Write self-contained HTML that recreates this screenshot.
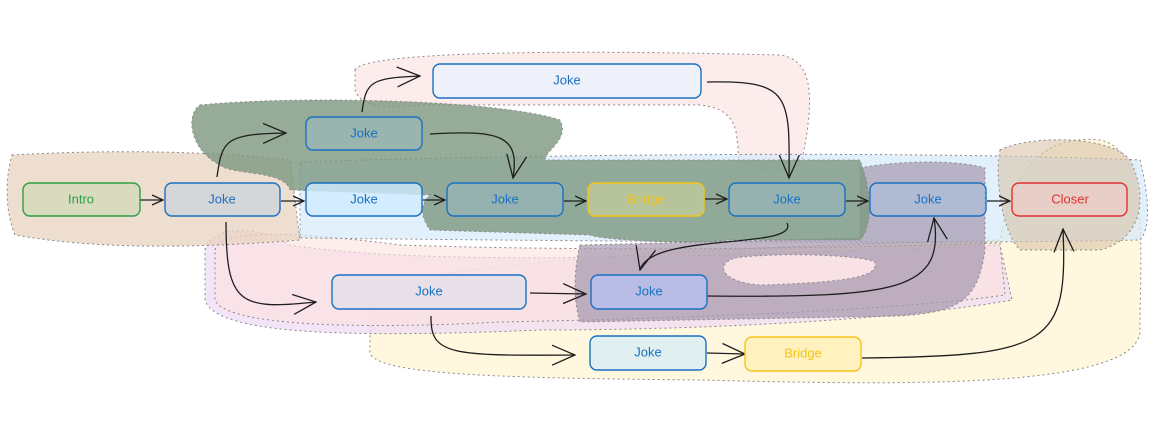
<!DOCTYPE html>
<html><head><meta charset="utf-8"><style>
html,body{margin:0;padding:0;background:#fff;width:1157px;height:434px;overflow:hidden}
svg text{font-family:"Liberation Sans",sans-serif;font-size:13px;text-anchor:middle;dominant-baseline:middle}
</style></head><body>
<svg width="1157" height="434" viewBox="0 0 1157 434" xmlns="http://www.w3.org/2000/svg">
<defs>
<marker id="a" viewBox="0 0 12 12" refX="11" refY="6" markerWidth="12" markerHeight="12" orient="auto" markerUnits="userSpaceOnUse">
<path d="M0,1 L11,6 L0,11" fill="none" stroke="#1e1e1e" stroke-width="1.3"/></marker>
<marker id="b" viewBox="0 0 24 24" refX="23" refY="12" markerWidth="24" markerHeight="24" orient="auto" markerUnits="userSpaceOnUse">
<path d="M0,2 L23,12 L0,22" fill="none" stroke="#1e1e1e" stroke-width="1.3"/></marker>
</defs>
<g stroke="#888" stroke-dasharray="2 3" stroke-width="1">
<!-- yellow big -->
<path d="M370,300 C380,270 600,250 1000,240 C1015,160 1050,135 1100,140 C1150,150 1140,250 1140,330 C1140,390 900,385 700,380 C500,378 365,375 370,350 Z" fill="#fff3c4" fill-opacity="0.55"/>
<!-- pink top -->
<path d="M355,70 C360,55 500,48 780,55 C815,60 815,100 800,170 L740,170 C735,140 745,110 700,105 L420,105 C380,110 360,105 355,90 Z" fill="#fcdcdc" fill-opacity="0.55"/>
<!-- purple bottom -->
<path d="M205,250 C210,225 260,225 290,245 C400,262 600,262 1000,245 L1012,300 C900,320 700,330 540,330 C350,338 215,335 205,300 Z" fill="#efd8f5" fill-opacity="0.7"/>
<!-- pink bottom -->
<path d="M215,250 C220,228 300,232 400,245 C600,252 850,248 1000,243 L1005,295 C900,310 700,318 500,322 C350,330 225,325 215,300 Z" fill="#fbe3dd" fill-opacity="0.6"/>
<!-- light blue -->
<path d="M300,162 C500,155 900,150 1140,160 C1150,200 1150,230 1140,240 C900,245 500,240 300,238 Z" fill="#d6e9fb" fill-opacity="0.7"/>
<!-- left band -->
<path d="M12,155 C100,150 200,150 290,160 L300,240 C200,248 100,250 15,235 C5,210 5,180 12,155 Z" fill="#e8d3c0" fill-opacity="0.75"/>
<!-- dark purple-grey -->
<path fill-rule="evenodd" d="M580,245 L860,238 L860,168 C900,160 960,160 985,168 L985,250 C978,300 960,312 900,316 L580,322 C572,295 575,265 580,245 Z M735,258 C780,252 860,255 875,262 C878,275 860,282 760,285 C720,282 715,264 735,258 Z" fill="#a597ae" fill-opacity="0.7"/>
<!-- dark green -->
<path d="M200,105 C300,95 500,100 560,120 C570,140 545,150 545,160 L860,160 C875,200 870,230 860,240 L730,240 C700,245 600,240 590,235 L430,230 C420,215 420,205 430,195 L290,190 C285,170 230,175 220,165 C190,150 185,115 200,105 Z" fill="#7c9780" fill-opacity="0.8"/>
<!-- closer blob -->
<path d="M1000,150 C1030,135 1110,135 1130,160 C1150,200 1140,240 1100,250 L1020,250 C1000,230 995,170 1000,150 Z" fill="#d8c3a8" fill-opacity="0.6"/>
</g>
<!-- connectors -->
<g fill="none" stroke="#1e1e1e" stroke-width="1.3">
<path d="M140,200 L163,200" marker-end="url(#a)"/>
<path d="M281,201 L304,201" marker-end="url(#a)"/>
<path d="M423,200 L445,200" marker-end="url(#a)"/>
<path d="M564,201 L586,201" marker-end="url(#a)"/>
<path d="M705,199 L727,199" marker-end="url(#a)"/>
<path d="M846,201 L868,201" marker-end="url(#a)"/>
<path d="M987,201 L1010,201" marker-end="url(#a)"/>
<path d="M217,177 C222,140 225,134 286,133" marker-end="url(#b)"/>
<path d="M362,112 C366,82 370,78 420,76" marker-end="url(#b)"/>
<path d="M430,134 C500,130 520,135 513,178" marker-end="url(#b)"/>
<path d="M707,82 C790,80 790,95 789,178" marker-end="url(#b)"/>
<path d="M226,222 C226,305 240,310 316,302" marker-end="url(#b)"/>
<path d="M530,293 L586,294" marker-end="url(#b)"/>
<path d="M787,223 C800,250 650,232 640,270" marker-end="url(#b)"/>
<path d="M707,296 C900,298 945,290 934,218" marker-end="url(#b)"/>
<path d="M431,316 C430,355 450,356 575,355" marker-end="url(#b)"/>
<path d="M707,353 L745,354" marker-end="url(#b)"/>
<path d="M862,358 C1050,356 1068,345 1063,229" marker-end="url(#b)"/>
</g>
<!-- nodes -->
<g stroke-width="1.4">
<rect x="23" y="183" width="117" height="33" rx="7" fill="#b2d8a0" fill-opacity="0.35" stroke="#2f9e44"/>
<rect x="165" y="183" width="115" height="33" rx="7" fill="#a5c8e8" fill-opacity="0.35" stroke="#1971c2"/>
<rect x="306" y="117" width="116" height="33" rx="7" fill="#a5c8e8" fill-opacity="0.3" stroke="#1971c2"/>
<rect x="306" y="183" width="116" height="33" rx="7" fill="#d0ebff" fill-opacity="0.8" stroke="#1971c2"/>
<rect x="447" y="183" width="116" height="33" rx="7" fill="#a5c8e8" fill-opacity="0.3" stroke="#1971c2"/>
<rect x="588" y="183" width="116" height="33" rx="7" fill="#fff3a0" fill-opacity="0.35" stroke="#f5c518"/>
<rect x="729" y="183" width="116" height="33" rx="7" fill="#a5c8e8" fill-opacity="0.3" stroke="#1971c2"/>
<rect x="870" y="183" width="116" height="33" rx="7" fill="#a5c8e8" fill-opacity="0.4" stroke="#1971c2"/>
<rect x="1012" y="183" width="115" height="33" rx="7" fill="#f8c8c8" fill-opacity="0.4" stroke="#e03131"/>
<rect x="433" y="64" width="268" height="34" rx="7" fill="#eef0fa" stroke="#1971c2"/>
<rect x="332" y="275" width="194" height="34" rx="7" fill="#e8e0e8" stroke="#1971c2"/>
<rect x="591" y="275" width="116" height="34" rx="7" fill="#b9bde6" stroke="#1971c2"/>
<rect x="590" y="336" width="116" height="34" rx="7" fill="#e0f0f0" stroke="#1971c2"/>
<rect x="745" y="337" width="116" height="34" rx="7" fill="#fff1c0" stroke="#f5c518"/>
</g>
<g fill="#1971c2">
<text x="81" y="200" fill="#2f9e44">Intro</text>
<text x="222" y="200">Joke</text>
<text x="364" y="134">Joke</text>
<text x="364" y="200">Joke</text>
<text x="505" y="200">Joke</text>
<text x="646" y="200" fill="#f5c518">Bridge</text>
<text x="787" y="200">Joke</text>
<text x="928" y="200">Joke</text>
<text x="1070" y="200" fill="#e03131">Closer</text>
<text x="567" y="81">Joke</text>
<text x="429" y="292">Joke</text>
<text x="649" y="292">Joke</text>
<text x="648" y="353">Joke</text>
<text x="803" y="354" fill="#f5c518">Bridge</text>
</g>
</svg>
</body></html>
